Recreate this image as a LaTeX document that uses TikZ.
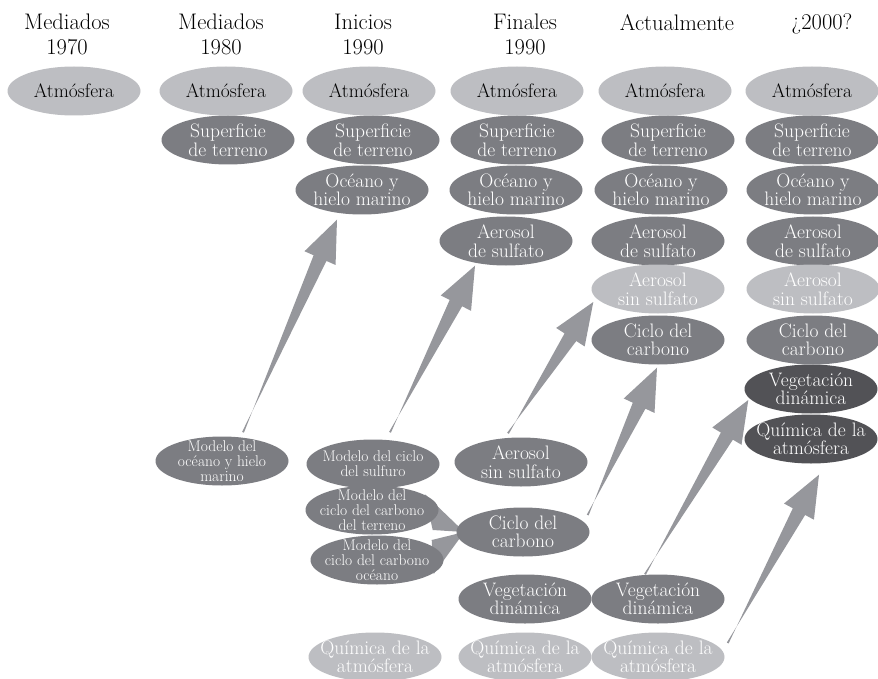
\documentclass[tikz,border=0pt]{standalone}
\usetikzlibrary{shapes.geometric,calc,backgrounds}
\definecolor{paleg}{RGB}{189,190,194}
\definecolor{midg}{RGB}{124,125,130}
\definecolor{darkg}{RGB}{82,82,86}
\definecolor{arrowg}{RGB}{150,151,156}
\newcommand{\fatarrow}[2]{%
  \coordinate (fa-h) at ($(#2)!42pt!(#1)$);
  \fill[arrowg] ($(#1)!1pt!90:(#2)$) -- ($(fa-h)!7pt!-90:(#2)$) -- ($(fa-h)!17pt!-90:(#2)$) -- (#2)
    -- ($(fa-h)!17pt!90:(#2)$) -- ($(fa-h)!7pt!90:(#2)$) -- ($(#1)!1pt!-90:(#2)$) -- cycle;}
\begin{document}
\begin{tikzpicture}[x=1pt,y=-1pt,
    paleblob/.style={ellipse,fill=paleg,minimum width=133pt,minimum height=49pt,inner sep=-15pt,
      align=center,text=white,font=\fontsize{19.5}{18.5}\selectfont},
    greyblob/.style={paleblob,fill=midg},
    darkblob/.style={paleblob,fill=darkg},
    skyblob/.style={paleblob,text=black},
    modelblob/.style={greyblob,font=\fontsize{15.5}{15}\selectfont},
    yearlabel/.style={anchor=north,align=center,inner sep=0pt,font=\fontsize{22.5}{25}\selectfont}]
    \useasboundingbox (0,0) rectangle (878,679);
    \node[yearlabel] (H1) at (67,14) {Mediados\\1970};
    \node[yearlabel] (H2) at (221,14) {Mediados\\1980};
    \node[yearlabel] (H3) at (363,14) {Inicios\\1990};
    \node[yearlabel] (H4) at (525,14) {Finales\\1990};
    \node[yearlabel] (H5) at (677,14) {Actualmente};
    \node[yearlabel] (H6) at (822,14) {¿2000?};
    \node[skyblob] (AT1) at (74,91) {Atmósfera};
    \node[skyblob] (AT2) at (226,91) {Atmósfera};
    \node[skyblob] (AT3) at (369,91) {Atmósfera};
    \node[skyblob] (AT4) at (517,91) {Atmósfera};
    \node[skyblob] (AT5) at (665,91) {Atmósfera};
    \node[skyblob] (AT6) at (812,91) {Atmósfera};
    \node[greyblob] (SU2) at (228,140) {Superficie\\de terreno};
    \node[greyblob] (SU3) at (373,140) {Superficie\\de terreno};
    \node[greyblob] (SU4) at (517,140) {Superficie\\de terreno};
    \node[greyblob] (SU5) at (668,140) {Superficie\\de terreno};
    \node[greyblob] (SU6) at (812,140) {Superficie\\de terreno};
    \node[greyblob] (OC3) at (362,190) {Océano y\\hielo marino};
    \node[greyblob] (OC4) at (516,190) {Océano y\\hielo marino};
    \node[greyblob] (OC5) at (661,190) {Océano y\\hielo marino};
    \node[greyblob] (OC6) at (813,190) {Océano y\\hielo marino};
    \node[greyblob] (AS4) at (506,241) {Aerosol\\de sulfato};
    \node[greyblob] (AS5) at (658,241) {Aerosol\\de sulfato};
    \node[greyblob] (AS6) at (813,241) {Aerosol\\de sulfato};
    \node[paleblob] (AN5) at (658,289) {Aerosol\\sin sulfato};
    \node[paleblob] (AN6) at (813,289) {Aerosol\\sin sulfato};
    \node[greyblob] (CC5) at (658,340) {Ciclo del\\carbono};
    \node[greyblob] (CC6) at (813,340) {Ciclo del\\carbono};
    \node[darkblob] (VE6) at (811,389) {Vegetación\\dinámica};
    \node[darkblob] (QU6) at (811,439) {Química de la\\atmósfera};
    \node[modelblob] (MO2) at (222,461) {Modelo del\\océano y hielo\\marino};
    \node[modelblob] (MS3) at (373,464) {Modelo del ciclo\\del sulfuro};
    \node[modelblob] (MT3) at (372,510) {Modelo del\\ciclo del carbono\\del terreno};
    \node[modelblob] (MC3) at (377,560) {Modelo del\\ciclo del carbono\\océano};
    \node[greyblob] (AN4) at (521,462) {Aerosol\\sin sulfato};
    \node[greyblob] (CC4) at (523,532) {Ciclo del\\carbono};
    \node[greyblob] (VE4) at (525,599) {Vegetación\\dinámica};
    \node[greyblob] (VE5) at (658,599) {Vegetación\\dinámica};
    \node[paleblob] (QU3) at (375,657) {Química de la\\atmósfera};
    \node[paleblob] (QU4) at (525,657) {Química de la\\atmósfera};
    \node[paleblob] (QU5) at (658,657) {Química de la\\atmósfera};
    \begin{pgfonlayer}{background}
      \fill[arrowg] ($(MT3.east)+(-14,-16)$) -- ($(MT3.east)+(-6,20)$) -- ($(CC4.west)+(8,0)$) -- cycle;
      \fill[arrowg] ($(MC3.east)+(-12,-20)$) -- ($(MC3.east)+(-10,14)$) -- ($(CC4.west)+(8,0)$) -- cycle;
    \end{pgfonlayer}
    \coordinate (T1) at ($(MO2.north)+(21,-4)$);
    \coordinate (P1) at ($(OC3.south)+(-25,5)$);
    \coordinate (T2) at ($(MS3.north)+(17,-7)$);
    \coordinate (P2) at ($(AS4.south)+(-31,0)$);
    \coordinate (T3) at ($(AN4.north)+(-13,-4)$);
    \coordinate (P3) at ($(AN5.west)+(2,13)$);
    \coordinate (T4) at ($(CC4.east)+(-2,-17)$);
    \coordinate (P4) at ($(CC5.south)+(-1,3)$);
    \coordinate (T5) at ($(VE5.north)+(-13,0)$);
    \coordinate (P5) at ($(VE6.west)+(4,11)$);
    \coordinate (T6) at ($(QU5.east)+(3,-14)$);
    \coordinate (P6) at ($(QU6.south)+(8,11)$);
    \fatarrow{T1}{P1}
    \fatarrow{T2}{P2}
    \fatarrow{T3}{P3}
    \fatarrow{T4}{P4}
    \fatarrow{T5}{P5}
    \fatarrow{T6}{P6}
\end{tikzpicture}
\end{document}
